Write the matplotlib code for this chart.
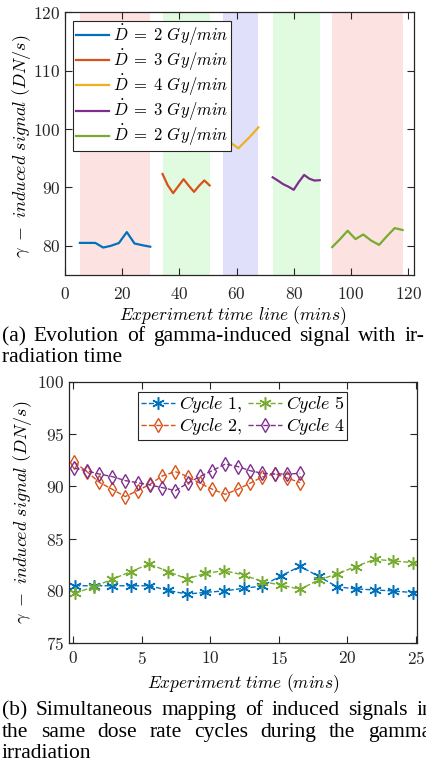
import matplotlib
matplotlib.use("Agg")
import matplotlib.pyplot as plt
import numpy as np

plt.rcParams["font.family"] = "cmr10"
plt.rcParams["mathtext.fontset"] = "cm"
plt.rcParams["axes.formatter.use_mathtext"] = True

# ---- data ----
# bottom panel: 19 samples per cycle
t_slow = [0.15, 1.5, 2.85, 4.2, 5.55, 6.95, 8.3, 9.65, 11.0, 12.45,
          13.8, 15.15, 16.55, 17.9, 19.25, 20.6, 22.0, 23.35, 24.75]
t_fast = [0.1, 1.0, 1.9, 2.85, 3.8, 4.7, 5.6, 6.5, 7.45, 8.35,
          9.25, 10.15, 11.1, 12.0, 12.9, 13.8, 14.7, 15.6, 16.55]
cycle1 = [80.5, 80.5, 80.5, 80.5, 80.5, 80.05, 79.7, 79.87, 80.0, 80.26,
          80.48, 81.45, 82.35, 81.4, 80.4, 80.2, 80.1, 80.0, 79.85]
cycle5 = [79.78, 80.41, 81.12, 81.85, 82.58, 81.85, 81.15, 81.69, 81.94, 81.53,
          80.89, 80.57, 80.16, 81.05, 81.63, 82.33, 83.03, 82.87, 82.71]
cycle2 = [92.3, 91.41, 90.39, 89.72, 89.02, 89.59, 90.2, 90.99, 91.41, 90.93,
          90.3, 89.72, 89.24, 89.72, 90.3, 90.9, 91.2, 90.8, 90.35]
cycle4 = [91.73, 91.47, 91.18, 90.93, 90.55, 90.35, 90.13, 89.88, 89.59, 90.3,
          90.95, 91.5, 92.14, 91.89, 91.5, 91.24, 91.18, 91.18, 91.24]

# cycle 3 (4 Gy/min) only appears on the time line
cycle3_t = [0.0, 5.3, 9.4, 12.3]
cycle3 = [98.6, 96.7, 98.7, 100.3]

# start of each irradiation cycle on the experiment time line (mins)
starts = [5.2, 34.1, 55.3, 72.6, 93.4]
dose_labels = [r"$\dot{D}\;=\;2\ Gy/min$", r"$\dot{D}\;=\;3\ Gy/min$", r"$\dot{D}\;=\;4\ Gy/min$",
               r"$\dot{D}\;=\;3\ Gy/min$", r"$\dot{D}\;=\;2\ Gy/min$"]
span_colors = ["#fde2e2", "#e0fbe0", "#e0e0fa", "#e0fbe0", "#fde2e2"]

C_BLUE, C_ORANGE, C_YELLOW, C_PURPLE, C_GREEN = "#0072BD", "#D95319", "#EDB120", "#7E2F8E", "#77AC30"
ASTER = (6, 2, 0)

fig = plt.figure(figsize=(4.26, 7.66), dpi=100)

# ---- panel (a) ----
ax1 = fig.add_axes([65 / 426, 1 - 275 / 766, 349 / 426, 262.7 / 766])
series = [
    (np.array(t_slow[::2]) - t_slow[0], cycle1[::2], C_BLUE),
    (np.array(t_fast[::2]) - t_fast[0], cycle2[::2], C_ORANGE),
    (np.array(cycle3_t), cycle3, C_YELLOW),
    (np.array(t_fast[::2]) - t_fast[0], cycle4[::2], C_PURPLE),
    (np.array(t_slow[::2]) - t_slow[0], cycle5[::2], C_GREEN),
]
for (t, y, c), s0, lab, sc in zip(series, starts, dose_labels, span_colors):
    tt = t + s0
    ax1.axvspan(tt[0], tt[-1], color=sc, lw=0, zorder=0)
    ax1.plot(tt, y, color=c, lw=1.6, label=lab, zorder=2)
ax1.set_xlim(0, 122)
ax1.set_ylim(75, 120)
ax1.set_xticks(range(0, 121, 20))
ax1.set_yticks(range(80, 121, 10))
ax1.set_xlabel(r"$Experiment\ time\ line\ (mins)$", fontsize=12.5)
ax1.xaxis.set_label_coords(0.48, -0.112)
ax1.set_ylabel(r"$\gamma\ -\ induced\ signal\ (DN/s)$", fontsize=13)
ax1.yaxis.set_label_coords(-0.093, 0.49)
leg1 = ax1.legend(loc="upper left", fontsize=12, fancybox=False, edgecolor="#262626",
                  framealpha=1, borderpad=0.15, labelspacing=0.0, handlelength=2.0,
                  handletextpad=0.25, borderaxespad=0.5)
leg1.get_frame().set_linewidth(0.8)

# ---- panel (b) ----
ax2 = fig.add_axes([69 / 426, 1 - 643.3 / 766, 347.7 / 426, 261.6 / 766])
ax2.plot(t_slow, cycle1, "--", color=C_BLUE, marker=ASTER, ms=9, mew=1.1, lw=1, label=r"$Cycle\ 1,$")
ax2.plot(t_fast, cycle2, "--", color=C_ORANGE, marker="d", ms=7.5, mfc="none", mew=1, lw=1, label=r"$Cycle\ 2,$")
ax2.plot(t_slow, cycle5, "--", color=C_GREEN, marker=ASTER, ms=9, mew=1.1, lw=1, label=r"$Cycle\ 5$")
ax2.plot(t_fast, cycle4, "--", color=C_PURPLE, marker="d", ms=7.5, mfc="none", mew=1, lw=1, label=r"$Cycle\ 4$")
ax2.set_xlim(-0.3, 25.05)
ax2.set_ylim(75, 100)
ax2.set_xticks(range(0, 26, 5))
ax2.set_yticks(range(75, 101, 5))
ax2.set_xlabel(r"$Experiment\ time\ (mins)$", fontsize=12.5)
ax2.xaxis.set_label_coords(0.5, -0.11)
ax2.set_ylabel(r"$\gamma\ -\ induced\ signal\ (DN/s)$", fontsize=13)
ax2.yaxis.set_label_coords(-0.10, 0.5)
leg2 = ax2.legend(loc="upper center", ncol=2, fontsize=13, fancybox=False, edgecolor="#262626",
                  framealpha=1, borderpad=0.15, labelspacing=0.05, handlelength=1.9,
                  handletextpad=0.2, columnspacing=0.3, borderaxespad=0.55,
                  bbox_to_anchor=(0.5, 1.0))
leg2.get_frame().set_linewidth(0.8)

for ax in (ax1, ax2):
    ax.tick_params(direction="in", top=True, right=True, labelsize=12.5, length=5,
                   width=0.8, colors="#262626")
    for sp in ax.spines.values():
        sp.set_color("#262626")
        sp.set_linewidth(0.9)
ax1.tick_params(axis="x", pad=8)
ax2.tick_params(axis="x", pad=5)

# ---- captions (justified like the paper) ----
cap = dict(family="Liberation Serif", fontsize=15.5, ha="left", va="baseline", color="black")
renderer = fig.canvas.get_renderer()


def caption_line(text, y_px, x0=2, x1=None):
    if x1 is None:
        fig.text(x0 / 426, 1 - y_px / 766, text, **cap)
        return
    words = text.split(" ")
    objs = [fig.text(0, 1 - y_px / 766, w, **cap) for w in words]
    widths = [o.get_window_extent(renderer).width for o in objs]
    gap = (x1 - x0 - sum(widths)) / (len(words) - 1)
    x = x0
    for o, w in zip(objs, widths):
        o.set_x(x / 426)
        x += w + gap


caption_line("(a) Evolution of gamma-induced signal with ir-", 341, x1=424)
caption_line("radiation time", 362)
caption_line("(b) Simultaneous mapping of induced signals in", 715, x1=433)
caption_line("the same dose rate cycles during the gamma", 737, x1=431)
caption_line("irradiation", 758)

fig.savefig("out.png", dpi=100)
